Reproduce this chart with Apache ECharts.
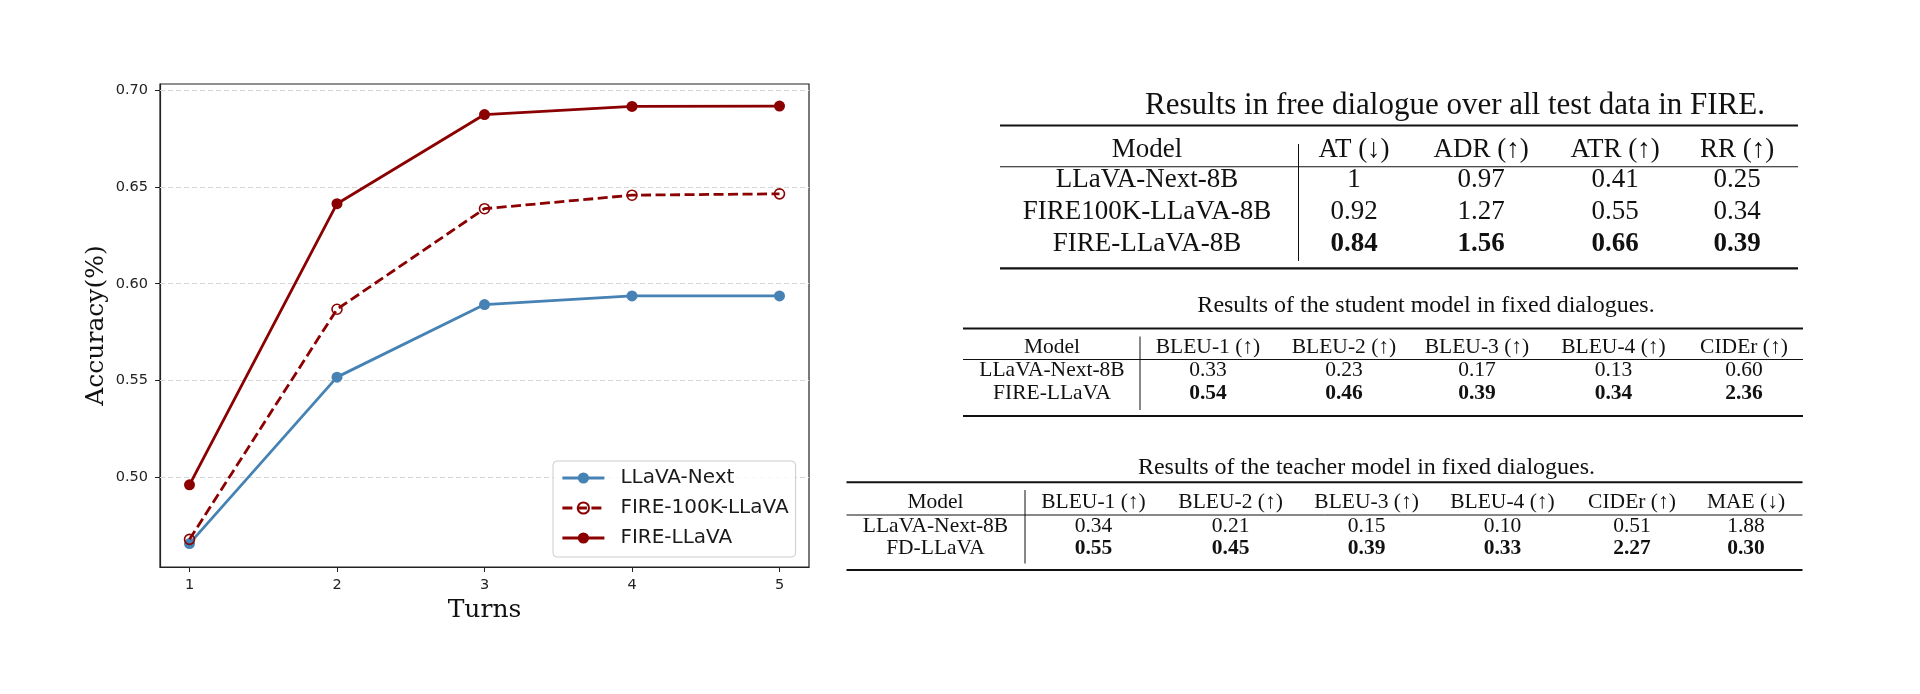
<!DOCTYPE html>
<html>
<head>
<meta charset="utf-8">
<script src="https://cdn.jsdelivr.net/npm/echarts@6/dist/echarts.min.js"></script>
<style>
html, body { margin: 0; padding: 0; background: #ffffff; }
#main { width: 1920px; height: 694px; }
</style>
</head>
<body>
<div id="main"></div>
<script>
// ---------------- data ----------------
const turns = [1, 2, 3, 4, 5];
const llavaNext = [0.4656, 0.5517, 0.5892, 0.5937, 0.5937];
const fire100k = [0.4678, 0.5868, 0.6388, 0.6458, 0.6465];
const fireLlava = [0.4960, 0.6414, 0.6875, 0.6917, 0.6919];
const seriesNames = ['LLaVA-Next', 'FIRE-100K-LLaVA', 'FIRE-LLaVA'];
const xTicks = [1, 2, 3, 4, 5];
const yTicks = [0.50, 0.55, 0.60, 0.65, 0.70];

const t1Title = 'Results in free dialogue over all test data in FIRE.';
const t1Header = ['Model', 'AT (↓)', 'ADR (↑)', 'ATR (↑)', 'RR (↑)'];
const t1Models = ['LLaVA-Next-8B', 'FIRE100K-LLaVA-8B', 'FIRE-LLaVA-8B'];
const t1Values = [
  ['1', '0.97', '0.41', '0.25'],
  ['0.92', '1.27', '0.55', '0.34'],
  ['0.84', '1.56', '0.66', '0.39']
];

const t2Title = 'Results of the student model in fixed dialogues.';
const t2Header = ['Model', 'BLEU-1 (↑)', 'BLEU-2 (↑)', 'BLEU-3 (↑)', 'BLEU-4 (↑)', 'CIDEr (↑)'];
const t2Models = ['LLaVA-Next-8B', 'FIRE-LLaVA'];
const t2Values = [
  ['0.33', '0.23', '0.17', '0.13', '0.60'],
  ['0.54', '0.46', '0.39', '0.34', '2.36']
];

const t3Title = 'Results of the teacher model in fixed dialogues.';
const t3Header = ['Model', 'BLEU-1 (↑)', 'BLEU-2 (↑)', 'BLEU-3 (↑)', 'BLEU-4 (↑)', 'CIDEr (↑)', 'MAE (↓)'];
const t3Models = ['LLaVA-Next-8B', 'FD-LLaVA'];
const t3Values = [
  ['0.34', '0.21', '0.15', '0.10', '0.51', '1.88'],
  ['0.55', '0.45', '0.39', '0.33', '2.27', '0.30']
];

// ---------------- layout ----------------
const layout1 = { font: 27, titleFont: 31, titleX: 1455, titleY: 106, x0: 1000, x1: 1798,
  top: 125.5, mid: 166.8, bot: 268.3, vx: 1298.5, vy0: 144, vy1: 261,
  headY: 149.5, rowY: [180, 212, 244], colX: [1147, 1354, 1481, 1615, 1737],
  boldRow: 2, thick: 2.2, thin: 1.1 };
const layout2 = { font: 21.5, titleFont: 24, titleX: 1426, titleY: 305.5, x0: 963, x1: 1803,
  top: 328.5, mid: 359.5, bot: 416, vx: 1140, vy0: 336.5, vy1: 410,
  headY: 347, rowY: [370.5, 393], colX: [1052, 1208, 1344, 1477, 1613.5, 1744],
  boldRow: 1, thick: 2, thin: 1 };
const layout3 = { font: 21.5, titleFont: 24, titleX: 1366.5, titleY: 467.5, x0: 846.5, x1: 1802.5,
  top: 482.3, mid: 515, bot: 570, vx: 1025, vy0: 490, vy1: 563.5,
  headY: 502, rowY: [526, 548.8], colX: [935.5, 1093.5, 1230.6, 1366.6, 1502.5, 1632, 1746],
  boldRow: 1, thick: 2, thin: 1 };

const serif = '"Liberation Serif", "Times New Roman", "DejaVu Serif", serif';

function txt(x, y, text, size, bold) {
  return {
    type: 'text', x: x, y: y, silent: true,
    style: {
      text: text, fill: '#111111', fontFamily: serif, fontSize: size,
      fontWeight: bold ? 'bold' : 'normal',
      align: 'center', verticalAlign: 'middle',
      textAlign: 'center', textVerticalAlign: 'middle'
    }
  };
}
function hline(x0, x1, y, w) {
  return { type: 'line', silent: true, shape: { x1: x0, y1: y, x2: x1, y2: y },
    style: { stroke: '#111111', lineWidth: w } };
}
function vline(x, y0, y1, w) {
  return { type: 'line', silent: true, shape: { x1: x, y1: y0, x2: x, y2: y1 },
    style: { stroke: '#111111', lineWidth: w } };
}
function buildTable(title, header, models, values, L) {
  const els = [];
  els.push(txt(L.titleX, L.titleY, title, L.titleFont, false));
  els.push(hline(L.x0, L.x1, L.top, L.thick));
  els.push(hline(L.x0, L.x1, L.mid, L.thin));
  els.push(hline(L.x0, L.x1, L.bot, L.thick));
  els.push(vline(L.vx, L.vy0, L.vy1, 1));
  header.forEach(function (h, j) { els.push(txt(L.colX[j], L.headY, h, L.font, false)); });
  models.forEach(function (m, i) {
    els.push(txt(L.colX[0], L.rowY[i], m, L.font, false));
    values[i].forEach(function (v, j) {
      els.push(txt(L.colX[j + 1], L.rowY[i], v, L.font, i === L.boldRow));
    });
  });
  return els;
}

const pair = arr => turns.map((t, i) => [t, arr[i]]);

const axisColor = '#222222';
const sans = '"DejaVu Sans", sans-serif';
const dserif = '"DejaVu Serif", serif';

const chart = echarts.init(document.getElementById('main'), null, { renderer: 'canvas' });
const option = {
  animation: false,
  backgroundColor: '#ffffff',
  grid: { left: 160, top: 84, width: 649, height: 483, show: true,
    borderColor: axisColor, borderWidth: 1.2, backgroundColor: 'transparent', containLabel: false },
  xAxis: {
    type: 'value', min: 0.8, max: 5.2,
    name: 'Turns', nameLocation: 'middle', nameGap: 30,
    nameTextStyle: { fontFamily: dserif, fontSize: 25, color: '#111' },
    axisLine: { show: true, onZero: false, lineStyle: { color: axisColor, width: 1.2 } },
    axisTick: { show: true, length: 5, customValues: xTicks, lineStyle: { color: axisColor, width: 1 } },
    axisLabel: { customValues: xTicks, margin: 11, fontFamily: sans, fontSize: 14.5, color: axisColor },
    splitLine: { show: false }
  },
  yAxis: {
    type: 'value', min: 0.4535, max: 0.7033,
    name: 'Accuracy(%)', nameLocation: 'middle', nameGap: 51,
    nameTextStyle: { fontFamily: dserif, fontSize: 25, color: '#111' },
    axisLine: { show: true, onZero: false, lineStyle: { color: axisColor, width: 1.2 } },
    axisTick: { show: true, length: 5, customValues: yTicks, lineStyle: { color: axisColor, width: 1 } },
    axisLabel: { customValues: yTicks, margin: 12, fontFamily: sans, fontSize: 14.5, color: axisColor,
      formatter: v => Number(v).toFixed(2) },
    splitLine: { show: false }
  },
  legend: {
    data: seriesNames, orient: 'vertical', left: 553, top: 461, z: 20,
    padding: [7, 7, 9, 8], itemGap: 10, itemWidth: 42, itemHeight: 14,
    backgroundColor: 'rgba(255,255,255,0.85)', borderColor: '#cccccc', borderWidth: 1, borderRadius: 4,
    lineStyle: { width: 2.8 },
    textStyle: { fontFamily: sans, fontSize: 20, color: '#1a1a1a', lineHeight: 20, padding: [0, 0, 0, 11] },
    selectedMode: false
  },
  series: [
    {
      type: 'line', data: [], silent: true, z: 1, symbol: 'none',
      markLine: {
        z: 1, silent: true, animation: false, symbol: ['none', 'none'], label: { show: false },
        lineStyle: { color: '#d6d6d6', type: [5, 3], width: 1 },
        emphasis: { disabled: true },
        data: yTicks.map(v => ({ yAxis: v }))
      }
    },
    {
      name: seriesNames[0], type: 'line', data: pair(llavaNext), z: 3,
      symbol: 'circle', symbolSize: 11,
      itemStyle: { color: '#4682B4' }, lineStyle: { color: '#4682B4', width: 2.8 },
      emphasis: { disabled: true }
    },
    {
      name: seriesNames[1], type: 'line', data: pair(fire100k), z: 4,
      symbol: 'circle', symbolSize: 10,
      itemStyle: { color: 'rgba(255,255,255,0)', borderColor: '#8B0000', borderWidth: 1.6 },
      lineStyle: { color: '#8B0000', width: 2.8, type: [10, 4.5] },
      emphasis: { disabled: true }
    },
    {
      name: seriesNames[2], type: 'line', data: pair(fireLlava), z: 5,
      symbol: 'circle', symbolSize: 11,
      itemStyle: { color: '#8B0000' }, lineStyle: { color: '#8B0000', width: 2.8 },
      emphasis: { disabled: true }
    }
  ],
  graphic: {
    elements: [].concat(
      buildTable(t1Title, t1Header, t1Models, t1Values, layout1),
      buildTable(t2Title, t2Header, t2Models, t2Values, layout2),
      buildTable(t3Title, t3Header, t3Models, t3Values, layout3)
    )
  }
};
chart.setOption(option);
</script>
</body>
</html>
